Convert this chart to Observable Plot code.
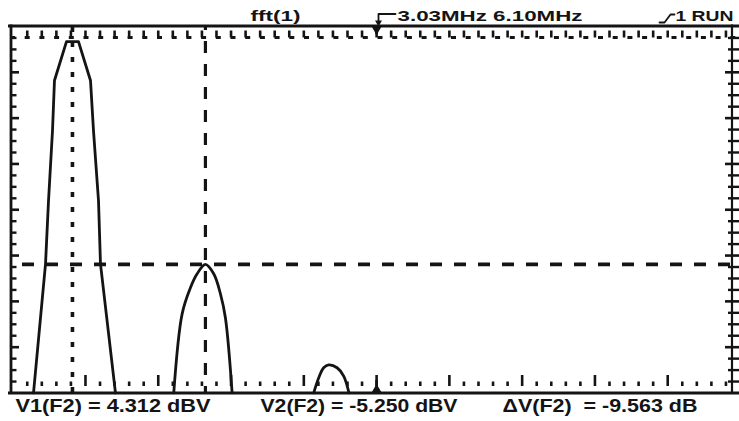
<!DOCTYPE html>
<html><head><meta charset="utf-8">
<script src="https://cdn.jsdelivr.net/npm/d3@7"></script>
<script src="https://cdn.jsdelivr.net/npm/@observablehq/plot@0.6"></script>
<style>
  body{margin:0;background:#fff}
  svg{display:block}
</style>
</head><body><div id="chart"></div>
<script>
// ---- data (x in screen divisions 0..10, y in dBV) ----
const peak1Div = [0.286,0.451,0.492,0.547,0.574,0.739,0.904,1.069,1.110,1.179,1.206,1.412];
const peak1DBV = [-10.67,-5.23,-2.57,0.39,2.50,4.14,4.14,2.50,0.39,-2.57,-5.23,-10.67];
const peak2Div = [2.213,2.328,2.442,2.534,2.648,2.762,2.854,2.923,3.015];
const peak2DBV = [-10.67,-7.34,-6.24,-5.65,-5.25,-5.65,-6.49,-7.51,-10.67];
const peak3Div = [4.136,4.205,4.273,4.342,4.457,4.548,4.620];
const peak3DBV = [-10.67,-10.03,-9.61,-9.49,-9.61,-9.96,-10.67];
const cursorF1Div = 0.821, cursorF2Div = 2.648;
const cursorV1 = 4.312, cursorV2 = -5.250;
const headerLabels = ["fft(1)", "3.03MHz 6.10MHz", "1 RUN"];
const readoutLabels = ["V1(F2) = 4.312 dBV", "V2(F2) = -5.250 dBV", "\u0394V(F2)  = -9.563 dB"];

// ---- layout / style ----
const W = 739, H = 421;
const xDomain = [0, 10], xRange = [12.2, 740];
const yDomain = [-10.674, 4.776], yRange = [392.5, 26];
const pxX = d3.scaleLinear(xRange, xDomain);   // screen-furniture helpers
const pxY = d3.scaleLinear(yRange, yDomain);
const textWidths = new Map([
  [headerLabels[0], 50], [headerLabels[1], 185], [headerLabels[2], 58],
  [readoutLabels[0], 195], [readoutLabels[1], 197], [readoutLabels[2], 195]
]);

const toRows = (xs, ys) => xs.map((x, i) => ({x, y: ys[i]}));
const p1 = toRows(peak1Div, peak1DBV), p2 = toRows(peak2Div, peak2DBV), p3 = toRows(peak3Div, peak3DBV);

const ink = "#141414";
const minorX = d3.range(1, 50).map(i => i * 0.2).filter((d, i) => (i + 1) % 5 !== 0);
const majorX = d3.range(1, 10);
const allX = d3.range(1, 51).map(i => i * 0.2);
const ySpan = yDomain[1] - yDomain[0];
const minorY = d3.range(1, 32).filter(i => i % 4 !== 0).map(i => yDomain[0] + i * ySpan / 32);
const majorY = d3.range(1, 8).map(i => yDomain[0] + i * 4 * ySpan / 32);

const font = {fontFamily: "Liberation Sans, Arial, sans-serif", fontWeight: "bold", fill: ink, lineAnchor: "middle", frameAnchor: "top-left", text: d => d};

const chart = Plot.plot({
  width: W, height: H,
  marginTop: 0, marginRight: 0, marginBottom: 0, marginLeft: 0,
  x: {domain: xDomain, range: xRange, axis: null},
  y: {domain: yDomain, range: yRange, axis: null},
  marks: [
    // frame
    Plot.ruleY([pxY(25.5)], {x1: pxX(8), x2: pxX(739), stroke: ink, strokeWidth: 2.8}),
    Plot.ruleY([pxY(392.5)], {x1: pxX(8), x2: pxX(739), stroke: ink, strokeWidth: 2.8}),
    Plot.ruleX([pxX(10.5)], {y1: pxY(24.5), y2: pxY(393.5), stroke: ink, strokeWidth: 2.8}),
    Plot.ruleX([pxX(731.5)], {y1: pxY(24.5), y2: pxY(393.5), stroke: ink, strokeWidth: 2.2}),
    // top tick row
    Plot.ruleX(allX, {y1: pxY(30.5), y2: pxY(37.5), stroke: ink, strokeWidth: 2.6}),
    // bottom tick row
    Plot.ruleX(minorX, {y1: pxY(386), y2: pxY(381.5), stroke: ink, strokeWidth: 2.6}),
    Plot.ruleX(majorX, {y1: pxY(386), y2: pxY(375), stroke: ink, strokeWidth: 2.6}),
    // left ticks
    Plot.ruleY(minorY, {x1: pxX(10), x2: pxX(16.5), stroke: ink, strokeWidth: 2.4}),
    Plot.ruleY(majorY, {x1: pxX(10), x2: pxX(19), stroke: ink, strokeWidth: 2.6}),
    // right ticks
    Plot.ruleY(minorY, {x1: pxX(728), x2: pxX(739), stroke: ink, strokeWidth: 2.4}),
    Plot.ruleY(majorY, {x1: pxX(725), x2: pxX(739), stroke: ink, strokeWidth: 2.6}),
    // cursors
    Plot.ruleY([cursorV1], {x1: pxX(12), x2: pxX(739), stroke: ink, strokeWidth: 3, strokeDasharray: "5,9.7", strokeDashoffset: 2}),
    Plot.ruleY([cursorV2], {x1: pxX(12), x2: pxX(731), stroke: ink, strokeWidth: 3.6, strokeDasharray: "12,12", strokeDashoffset: 14}),
    Plot.ruleX([cursorF1Div], {y1: pxY(392), y2: pxY(27), stroke: ink, strokeWidth: 3.6, strokeDasharray: "5,10", strokeDashoffset: 0}),
    Plot.ruleX([cursorF2Div], {y1: pxY(392), y2: pxY(27), stroke: ink, strokeWidth: 3.2, strokeDasharray: "12,11", strokeDashoffset: 6}),
    // trigger / centre markers
    Plot.ruleX([5], {y1: pxY(26), y2: pxY(34), stroke: ink, strokeWidth: 2.6}),
    Plot.dot([5], {x: d => d, y: pxY(29), symbol: "triangle", rotate: 180, r: 3.6, fill: ink, stroke: null}),
    Plot.ruleX([5], {y1: pxY(392), y2: pxY(380), stroke: ink, strokeWidth: 2.6}),
    Plot.dot([5], {x: d => d, y: pxY(389), symbol: "triangle", r: 3.6, fill: ink, stroke: null}),
    // spectrum trace
    Plot.line(p1, {x: "x", y: "y", stroke: ink, strokeWidth: 2.8, curve: "linear"}),
    Plot.line(p2, {x: "x", y: "y", stroke: ink, strokeWidth: 2.8, curve: "catmull-rom"}),
    Plot.line(p3, {x: "x", y: "y", stroke: ink, strokeWidth: 2.8, curve: "catmull-rom"}),
    // header glyphs
    Plot.line([[395, 13.5], [378, 13.5], [378, 21]], {x: d => pxX(d[0]), y: d => pxY(d[1]), stroke: ink, strokeWidth: 1.8}),
    Plot.dot([[378, 22]], {x: d => pxX(d[0]), y: d => pxY(d[1]), symbol: "triangle", rotate: 180, r: 2.6, fill: ink, stroke: null}),
    Plot.line([[659, 22], [664, 22], [670, 14], [674, 14]], {x: d => pxX(d[0]), y: d => pxY(d[1]), stroke: ink, strokeWidth: 1.8}),
    // header text
    Plot.text([headerLabels[0]], {...font, dx: 250, dy: 15.9, textAnchor: "start", fontSize: 15}),
    Plot.text([headerLabels[1]], {...font, dx: 397, dy: 15.9, textAnchor: "start", fontSize: 15}),
    Plot.text([headerLabels[2]], {...font, dx: 675, dy: 15.9, textAnchor: "start", fontSize: 15}),
    // readouts
    Plot.text([readoutLabels[0]], {...font, dx: 15, dy: 406.2, textAnchor: "start", fontSize: 18}),
    Plot.text([readoutLabels[1]], {...font, dx: 260, dy: 406.2, textAnchor: "start", fontSize: 18}),
    Plot.text([readoutLabels[2]], {...font, dx: 502, dy: 406.2, textAnchor: "start", fontSize: 18})
  ]
});
// the scope screenshot is horizontally stretched: stretch the glyphs to the same widths
d3.select(chart).selectAll("text").each(function() {
  const w = textWidths.get(this.textContent);
  if (w) { this.setAttribute("textLength", w); this.setAttribute("lengthAdjust", "spacingAndGlyphs"); }
});
document.getElementById("chart").appendChild(chart);
</script>
</body></html>
